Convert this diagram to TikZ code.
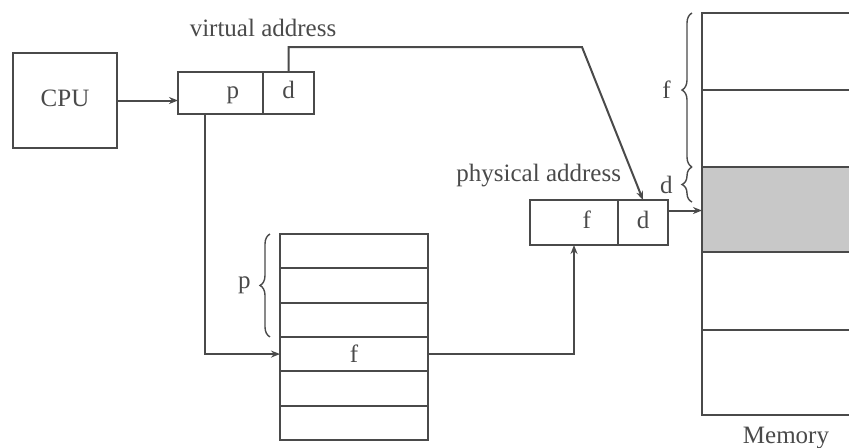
\documentclass[tikz,border=0pt]{standalone}
\usepackage{fontspec}
\setmainfont{Liberation Serif}
\usepackage{tikz}
\usetikzlibrary{arrows.meta,positioning,decorations.pathreplacing}
\definecolor{ink}{HTML}{4A4A4A}
\definecolor{shade}{HTML}{C8C8C8}

\begin{document}
\begin{tikzpicture}[x=0.5pt,y=-0.5pt,font=\fontsize{12.5}{15}\selectfont,color=ink,
  line width=1pt,
  cell/.style={draw=ink,line width=1pt,inner sep=0pt,outer sep=0pt,anchor=north west,text height=8pt,text depth=2.5pt},
  row/.style={draw=ink,line width=1pt,inner sep=0pt,outer sep=0pt,minimum width=74pt,minimum height=17.15pt},
  memrow/.style={draw=ink,line width=1pt,inner sep=0pt,outer sep=0pt,minimum width=84pt},
  arr/.style={draw=ink,line width=1pt,-{Stealth[length=4.5pt,width=3.5pt]}},
  brc/.style={draw=ink,line width=0.7pt,decorate,decoration={brace,amplitude=5pt}}]
\useasboundingbox (0,0) rectangle (849,447);
\clip (0,0) rectangle (849,447);
\node[cell,minimum width=52pt,minimum height=47.5pt] (cpu) at (13,53) {CPU};
\node[cell,minimum height=21pt,text width=18.5pt,inner xsep=12pt,align=right] (vp) at (178,72) {p};
\node[cell,minimum height=21pt,minimum width=25.5pt] (vd) at (vp.north east) {d};
\node[above=14pt of vd.north west] (vlabel) {virtual address};
\node[cell,minimum height=22.5pt,text width=17pt,inner xsep=13.5pt,align=right] (pf) at (530,200) {f};
\node[cell,minimum height=22.5pt,minimum width=25pt] (pd) at (pf.north east) {d};
\node[anchor=south east,inner sep=2pt] (plabel) at ([xshift=4pt,yshift=4pt]pd.north west) {physical address};
\foreach \i/\t in {1/,2/,3/,4/f,5/,6/}
  \node[row] (pt\i) at (354,{234+34.3*\i-17.15}) {\t};
\foreach \n/\a/\b/\c in {1/13/90/white,2/90/167/white,3/167/252/shade,4/252/330/white,5/330/415/white}
  \node[memrow,fill=\c,minimum height={(\b-\a)*0.5pt}] (mem\n) at (786,{(\a+\b)/2}) {};
\node[below=2pt of mem5] (mlabel) {Memory};
\coordinate (vbend) at (582,47);
\draw[arr] (cpu.east) -- (cpu.east -| vp.west);
\draw[arr] (vd.north) |- (vbend) -- (pd.north);
\draw[arr] ([xshift=-8pt]vp.south) |- (pt4.west);
\draw[arr] (pt4.east) -| (pf.south);
\draw[arr] ([yshift=6pt]pd.east) -- ([yshift=6pt]pd.east -| mem3.west);
\draw[brc] ([xshift=-5pt]mem2.south west) -- ([xshift=-5pt]mem1.north west)
  node[midway,left=7pt] (fb) {f};
\draw[brc] ([xshift=-5pt,yshift=-17.5pt]mem3.north west) -- ([xshift=-5pt]mem3.north west)
  node[midway,left=6pt] (db) {d};
\draw[brc] ([xshift=-5pt]pt3.south west) -- ([xshift=-5pt]pt1.north west)
  node[midway,left=6pt] (pb) {p};
\end{tikzpicture}
\end{document}
